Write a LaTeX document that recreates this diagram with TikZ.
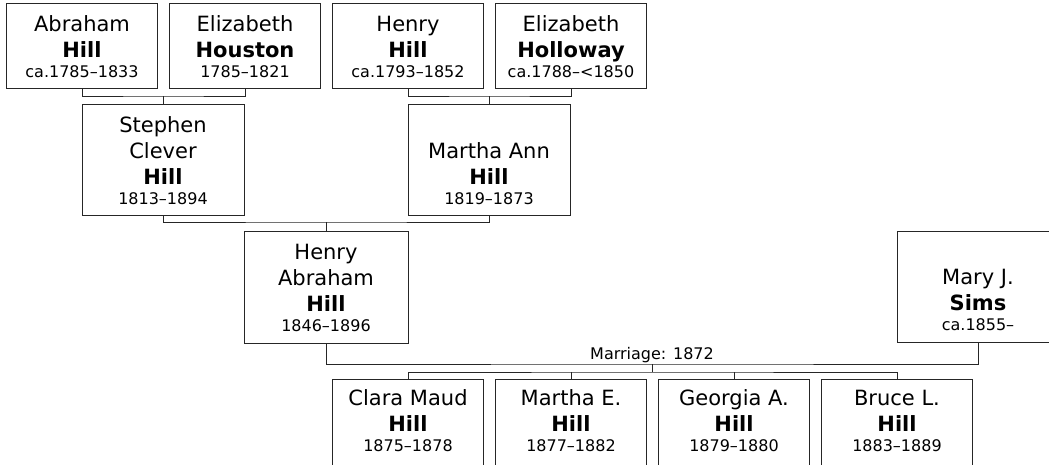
\documentclass[tikz,border=0pt]{standalone}
\usepackage{fontspec}
\setmainfont{DejaVu Sans}
\newcommand\dtfont{\fontsize{16}{20}\selectfont}
\begin{document}
\begin{tikzpicture}[x=1pt,y=-1pt,
  box/.style={draw=black!85,line width=1pt,inner sep=0pt,minimum width=151pt,minimum height=85pt},
  bigbox/.style={box,minimum width=162pt,minimum height=111pt},
  kidbox/.style={box,minimum height=87pt},
  txt/.style={align=center,inner sep=0pt,anchor=south,text=black,font=\fontsize{21}{26}\selectfont},
  link/.style={draw=black!85,line width=1pt}]
\useasboundingbox (0,0) rectangle (1049,464);
\clip (0,0) rectangle (1049,464);
% grandparents
\node[box] (a1) at (82,45.5) {};
\node[box] (a2) at (245,45.5) {};
\node[box] (a3) at (408,45.5) {};
\node[box] (a4) at (571,45.5) {};
\node[txt] (ta1) at ([yshift=10.5pt]a1.south) {Abraham\\\textbf{Hill}\\[-6pt]{\dtfont ca.1785–1833}};
\node[txt] (ta2) at ([yshift=10.5pt]a2.south) {Elizabeth\\\textbf{Houston}\\[-6pt]{\dtfont 1785–1821}};
\node[txt] (ta3) at ([yshift=10.5pt]a3.south) {Henry\\\textbf{Hill}\\[-6pt]{\dtfont ca.1793–1852}};
\node[txt] (ta4) at ([yshift=10.5pt]a4.south) {Elizabeth\\\textbf{Holloway}\\[-6pt]{\dtfont ca.1788–<1850}};
% parents
\node[bigbox] (s) at (163,159.5) {};
\node[bigbox] (m) at (489,159.5) {};
\node[txt] (ts) at ([yshift=11pt]s.south) {Stephen\\Clever\\\textbf{Hill}\\[-6pt]{\dtfont 1813–1894}};
\node[txt] (tm) at ([yshift=11pt]m.south) {Martha Ann\\\textbf{Hill}\\[-6pt]{\dtfont 1819–1873}};
% couple
\node[bigbox,minimum width=164pt,minimum height=112pt] (ha) at (326,287) {};
\node[txt] (tha) at ([yshift=11.5pt]ha.south) {Henry\\Abraham\\\textbf{Hill}\\[-6pt]{\dtfont 1846–1896}};
\node[bigbox] (mary) at (978,287) {};
\node[txt] (tmary) at ([yshift=12pt]mary.south) {Mary J.\\\textbf{Sims}\\[-6pt]{\dtfont ca.1855–}};
% children
\node[kidbox] (c1) at (408,422.5) {};
\node[kidbox] (c2) at (571,422.5) {};
\node[kidbox] (c3) at (734,422.5) {};
\node[kidbox] (c4) at (897,422.5) {};
\node[txt] (tc1) at (408,452) {Clara Maud\\\textbf{Hill}\\[-6pt]{\dtfont 1875–1878}};
\node[txt] (tc2) at (571,452) {Martha E.\\\textbf{Hill}\\[-6pt]{\dtfont 1877–1882}};
\node[txt] (tc3) at (734,452) {Georgia A.\\\textbf{Hill}\\[-6pt]{\dtfont 1879–1880}};
\node[txt] (tc4) at (897,452) {Bruce L.\\\textbf{Hill}\\[-6pt]{\dtfont 1883–1889}};
% connectors
\coordinate (j1) at (163,96);
\coordinate (j2) at (489,96);
\coordinate (j3) at (326,222);
\coordinate (j4) at (652,364);
\coordinate (j5) at (652,372);
\draw[link] (a1.south) |- (j1) -| (a2.south);
\draw[link] (j1) -- (s.north);
\draw[link] (a3.south) |- (j2) -| (a4.south);
\draw[link] (j2) -- (m.north);
\draw[link] (s.south) |- (j3) -| (m.south);
\draw[link] (j3) -- (ha.north);
\draw[link] (ha.south) |- (j4) -| (mary.south);
\node[inner sep=0pt,anchor=base,font=\dtfont] (ml) at (652,359) {Marriage: 1872};
\draw[link] (j4) -- (j5);
\draw[link] (c1.north) |- (j5) -| (c4.north);
\draw[link] (c2.north) -- (c2.north |- j5);
\draw[link] (c3.north) -- (c3.north |- j5);
\end{tikzpicture}
\end{document}
